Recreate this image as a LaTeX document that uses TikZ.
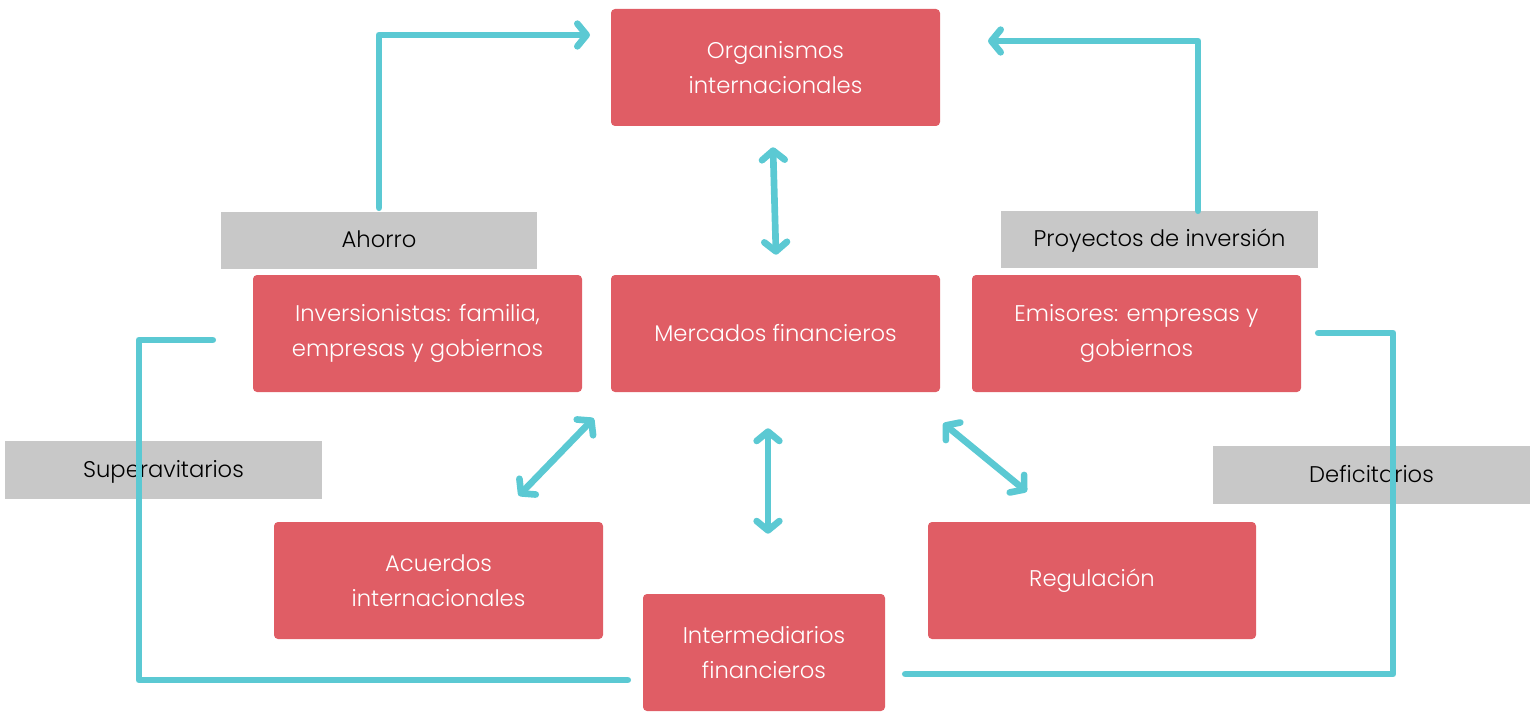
\documentclass[tikz,border=0pt]{standalone}
\usepackage{fontspec}
\setmainfont{Poppins}[UprightFont=* Light]
\usetikzlibrary{arrows.meta,calc}
\definecolor{boxred}{HTML}{E05D65}
\definecolor{flow}{HTML}{5BC9D3}
\definecolor{tag}{HTML}{C8C8C8}
\tikzset{
  redbox/.style={fill=boxred, rounded corners=3pt, text=white, align=center, font=\fontsize{17}{26}\selectfont, inner sep=0pt},
  graytag/.style={fill=tag, text=black, align=center, font=\fontsize{17}{22}\selectfont, inner sep=0pt, text depth=2pt},
  flowline/.style={draw=flow, line width=5pt, line cap=round, line join=round},
  flowarrow/.style={flowline, -{Straight Barb[round,length=7pt,width=17pt]}},
  flowboth/.style={flowline, {Straight Barb[round,length=7pt,width=17pt]}-{Straight Barb[round,length=7pt,width=17pt]}}
}
\begin{document}
\begin{tikzpicture}[x=0.75pt,y=-0.75pt]
\useasboundingbox (0,0) rectangle (1538,713);
% red boxes
\node[redbox, minimum width=329*0.75pt, minimum height=117*0.75pt] (org) at (775.5,67.5) {Organismos\\internacionales};
\node[redbox, minimum width=329*0.75pt, minimum height=117*0.75pt] (inv) at (417.5,333.5) {Inversionistas: familia,\\empresas y gobiernos};
\node[redbox, minimum width=329*0.75pt, minimum height=117*0.75pt] (mer) at (775.5,333.5) {Mercados financieros};
\node[redbox, minimum width=329*0.75pt, minimum height=117*0.75pt] (emi) at (1136.5,333.5) {Emisores: empresas y\\gobiernos};
\node[redbox, minimum width=329*0.75pt, minimum height=117*0.75pt] (acu) at (438.5,580.5) {Acuerdos\\internacionales};
\node[redbox, minimum width=328*0.75pt, minimum height=117*0.75pt] (reg) at (1092,580.5) {Regulación};
\node[redbox, minimum width=242*0.75pt, minimum height=117*0.75pt] (int) at (764,652.5) {Intermediarios\\financieros};
% gray tags
\node[graytag, minimum width=316*0.75pt, minimum height=57*0.75pt] (aho) at (379,240.5) {Ahorro};
\node[graytag, minimum width=317*0.75pt, minimum height=57*0.75pt] (pro) at (1159.5,239.5) {Proyectos de inversión};
\node[graytag, minimum width=317*0.75pt, minimum height=58*0.75pt] (sup) at (163.5,470) {Superavitarios};
\node[graytag, minimum width=317*0.75pt, minimum height=58*0.75pt] (def) at (1371.5,475) {Deficitarios};
% connectors
\coordinate (ahoTop) at (379,35);
\coordinate (ahoEnd) at (590,35);
\draw[flowarrow] ($(aho.north)+(0,-4)$) -- (ahoTop) -- (ahoEnd);
\coordinate (proTop) at (1198,41);
\coordinate (proEnd) at (988,41);
\draw[flowarrow] ($(pro.north)+(38.5,0)$) -- (proTop) -- (proEnd);
\draw[flowboth] ($(org.south)+(-2.5,21)$) -- ($(mer.north)+(0.5,-20)$);
\draw[flowboth] ($(mer.south west)+(-17,26)$) -- ($(acu.north west)+(245,-26)$);
\draw[flowboth] ($(mer.south)+(-7.5,36)$) -- ($(int.north)+(4,-60)$);
\draw[flowboth] ($(mer.south east)+(3,31)$) -- ($(reg.north west)+(99,-30)$);
\coordinate (lTop) at (139,340);
\coordinate (lBot) at (139,680);
\draw[flowline] ($(inv.west)+(-40,6.5)$) -- (lTop) -- (lBot) -- ($(int.west)+(-15,27.5)$);
\coordinate (rTop) at (1393,333);
\coordinate (rBot) at (1393,674);
\draw[flowline] ($(emi.east)+(17,-0.5)$) -- (rTop) -- (rBot) -- ($(int.east)+(20,21.5)$);
\end{tikzpicture}
\end{document}
